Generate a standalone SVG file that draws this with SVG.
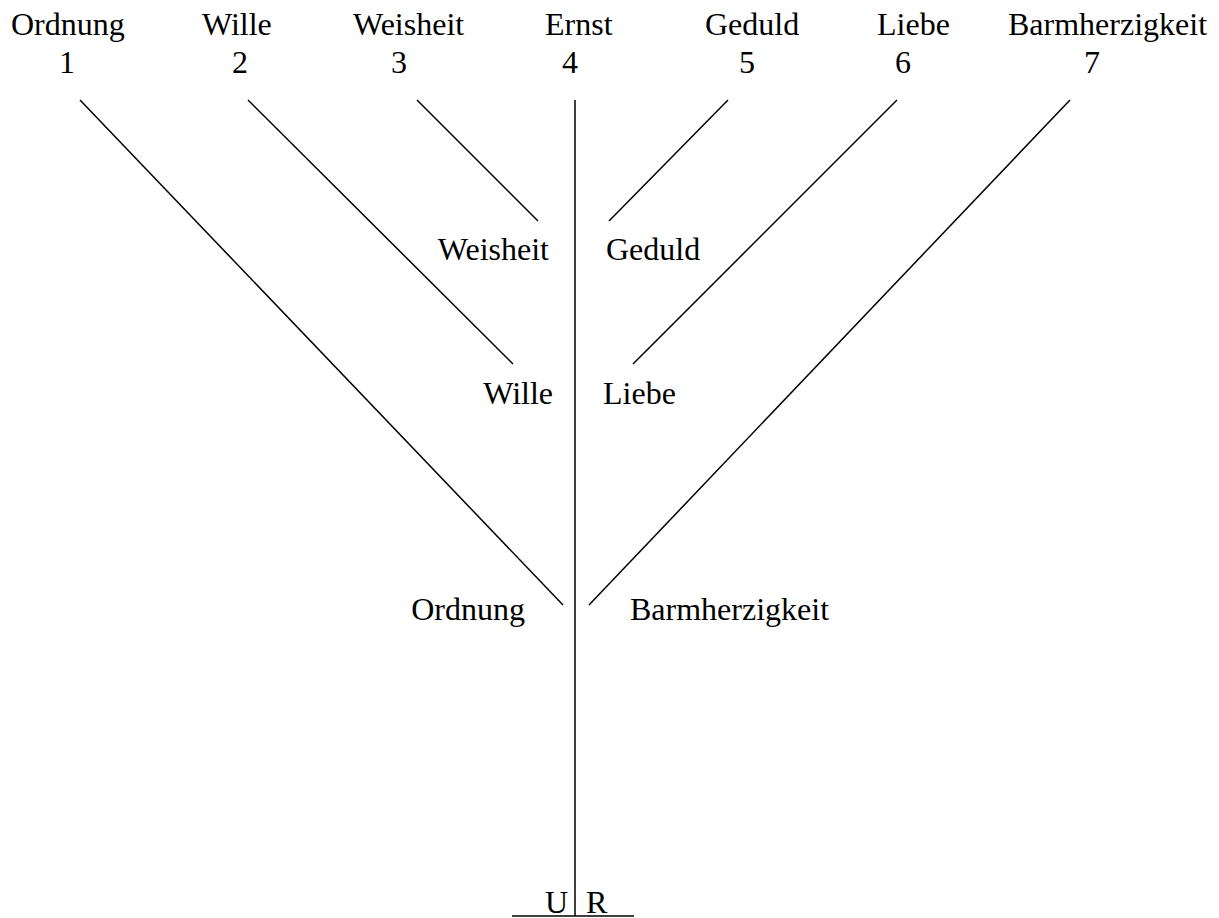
<svg xmlns="http://www.w3.org/2000/svg" width="1219" height="918" viewBox="0 0 1219 918">
<style>
text{font-family:"Liberation Serif","Times New Roman",serif;font-size:32px;fill:#000}
.m{text-anchor:middle}.e{text-anchor:end}
line{stroke:#000;stroke-width:1.5}
</style>
<rect width="1219" height="918" fill="#fff"/>
<g id="connectors">
<line x1="575" y1="100" x2="575" y2="916"/>
<line x1="512" y1="916" x2="634" y2="916"/>
<line x1="80" y1="100" x2="563" y2="605"/>
<line x1="248" y1="100" x2="513" y2="364"/>
<line x1="417" y1="100" x2="538" y2="221"/>
<line x1="728" y1="100" x2="609" y2="221"/>
<line x1="897" y1="100" x2="633" y2="364"/>
<line x1="1070" y1="100" x2="589" y2="605"/>
</g>
<g id="top1"><text x="11" y="35">Ordnung</text><text class="m" x="67" y="73">1</text></g>
<g id="top2"><text x="202" y="35">Wille</text><text class="m" x="240" y="73">2</text></g>
<g id="top3"><text x="353" y="35">Weisheit</text><text class="m" x="399" y="73">3</text></g>
<g id="top4"><text x="545" y="35">Ernst</text><text class="m" x="570" y="73">4</text></g>
<g id="top5"><text x="705" y="35">Geduld</text><text class="m" x="747" y="73">5</text></g>
<g id="top6"><text x="877" y="35">Liebe</text><text class="m" x="903" y="73">6</text></g>
<g id="top7"><text x="1008" y="35">Barmherzigkeit</text><text class="m" x="1092" y="73">7</text></g>
<g id="weisheit"><text class="e" x="549" y="260">Weisheit</text></g>
<g id="geduld"><text x="606" y="260">Geduld</text></g>
<g id="wille"><text class="e" x="553" y="404">Wille</text></g>
<g id="liebe"><text x="603" y="404">Liebe</text></g>
<g id="ordnung"><text class="e" x="525" y="620">Ordnung</text></g>
<g id="barmherzigkeit"><text x="630" y="620">Barmherzigkeit</text></g>
<g id="ur"><text class="e" x="568" y="913">U</text><text x="586" y="913">R</text></g>
</svg>
